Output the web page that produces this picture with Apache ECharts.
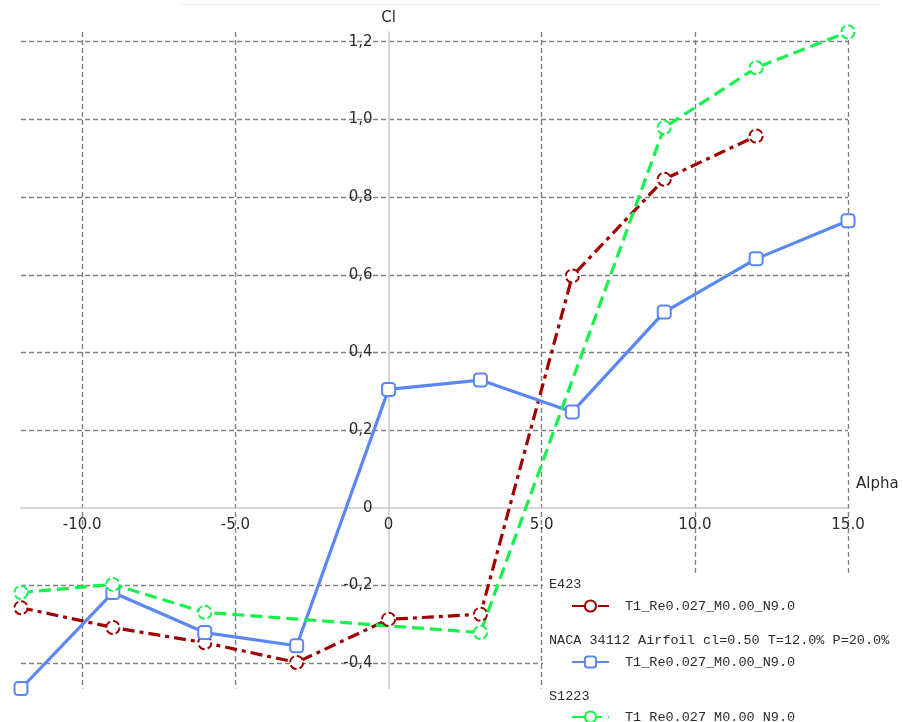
<!DOCTYPE html>
<html>
<head>
<meta charset="utf-8">
<title>Cl vs Alpha</title>
<script src="https://cdn.jsdelivr.net/npm/echarts@6/dist/echarts.min.js"></script>
<style>
  html, body { margin: 0; padding: 0; background: #fff; }
  #chart { width: 903px; height: 722px; }
</style>
</head>
<body>
<div id="chart"></div>
<script>
// Angle of attack (deg) for each polar
const alphaE423  = [-12, -9, -6, -3, 0, 3, 6, 9, 12];
const alphaNaca  = [-12, -9, -6, -3, 0, 3, 6, 9, 12, 15];
const alphaS1223 = [-12, -9, -6, 3, 9, 12, 15];

// Lift coefficient for each polar
const clE423  = [-0.257, -0.308, -0.347, -0.398, -0.287, -0.274, 0.597, 0.846, 0.957];
const clNaca  = [-0.465, -0.218, -0.321, -0.355, 0.305, 0.329, 0.247, 0.504, 0.641, 0.739];
const clS1223 = [-0.218, -0.197, -0.269, -0.321, 0.979, 1.133, 1.225];

// Airfoil names and the analysis name shown under each
const airfoilNames = ['E423', 'NACA 34112 Airfoil cl=0.50 T=12.0% P=20.0%', 'S1223'];
const polarName = 'T1_Re0.027_M0.00_N9.0';

// Axis ranges and tick positions
const xRange = [-12, 15];
const yRange = [-0.465, 1.225];
const xTickValues = [-10, -5, 0, 5, 10, 15];
const xGridValues = [-10, -5, 5, 10, 15];
const yTickValues = [-0.4, -0.2, 0, 0.2, 0.4, 0.6, 0.8, 1.0, 1.2];
const yGridValues = [-0.4, -0.2, 0.2, 0.4, 0.6, 0.8, 1.0, 1.2];

const pairs = (xs, ys) => xs.map((x, i) => [x, ys[i]]);

const textColor = '#2b2b2b';
const labelFont = 'DejaVu Sans';
const monoFont = 'Liberation Mono';
const monoCss = '13.5px "Liberation Mono"';

const gridLine = { show: true, lineStyle: { color: '#808080', width: 1.4, type: [5, 3] } };
const zeroLine = () => ({ show: true, onZero: true, onZeroAxisIndex: 0, lineStyle: { color: '#c9c9c9', width: 1.5 } });
const hidden = { show: false };

const colors = { e423: '#a10000', naca: '#5a87f5', s1223: '#14f24c' };

const xLabelFmt = v => (v === 0 ? '0' : v.toFixed(1));
const yLabelFmt = v => (Math.abs(v) < 1e-9 ? '0' : v.toFixed(1).replace('.', ','));

const chart = echarts.init(document.getElementById('chart'), null, { renderer: 'canvas' });

function legendFor(name, top) {
  return {
    data: [name],
    left: 566,
    top: top,
    orient: 'horizontal',
    itemWidth: 37,
    itemHeight: 14,
    selectedMode: false,
    formatter: () => polarName,
    textStyle: { fontFamily: monoFont, fontSize: 13.5, color: textColor, padding: [0, 0, 0, 11] }
  };
}

const option = {
  animation: false,
  backgroundColor: '#ffffff',
  grid: { left: 21, right: 55, top: 32, bottom: 33.5, containLabel: false, outerBoundsMode: 'none' },
  xAxis: [
    {
      // scale, grid lines and the zero line
      type: 'value',
      min: xRange[0],
      max: xRange[1],
      name: 'Alpha',
      nameLocation: 'end',
      nameGap: 8,
      nameTextStyle: { fontFamily: labelFont, fontSize: 15, color: textColor, align: 'left', verticalAlign: 'bottom', padding: [0, 0, 16, 0] },
      axisLine: zeroLine(),
      axisTick: { show: false, customValues: xGridValues },
      splitLine: gridLine,
      axisLabel: hidden
    },
    {
      // tick labels, shifted up onto the zero line
      type: 'value',
      min: xRange[0],
      max: xRange[1],
      position: 'bottom',
      offset: 0,
      axisLine: { show: false, onZero: false },
      axisTick: hidden,
      splitLine: hidden,
      axisLabel: { customValues: xTickValues, margin: 10, fontFamily: labelFont, fontSize: 15, color: textColor, formatter: xLabelFmt }
    }
  ],
  yAxis: [
    {
      type: 'value',
      min: yRange[0],
      max: yRange[1],
      name: 'Cl',
      nameLocation: 'end',
      nameGap: 6,
      nameTextStyle: { fontFamily: labelFont, fontSize: 15, color: textColor },
      axisLine: zeroLine(),
      axisTick: { show: false, customValues: yGridValues },
      splitLine: gridLine,
      axisLabel: hidden
    },
    {
      type: 'value',
      min: yRange[0],
      max: yRange[1],
      position: 'left',
      offset: 0,
      axisLine: { show: false, onZero: false },
      axisTick: hidden,
      splitLine: hidden,
      axisLabel: { customValues: yTickValues, margin: 16, fontFamily: labelFont, fontSize: 15, color: textColor, formatter: yLabelFmt }
    }
  ],
  legend: [
    legendFor(airfoilNames[0], 594),
    legendFor(airfoilNames[1], 650),
    legendFor(airfoilNames[2], 705)
  ],
  graphic: {
    elements: [
      // thin frame line along the top
      { type: 'line', z: 1, shape: { x1: 180, y1: 4.5, x2: 880, y2: 4.5 }, style: { stroke: '#ececec', lineWidth: 1 } },
      // legend panel background
      { type: 'rect', z: 1, shape: { x: 543, y: 575, width: 360, height: 147 }, style: { fill: '#ffffff' } },
      { type: 'text', z: 10, left: 549, top: 577, style: { text: airfoilNames[0], font: monoCss, fill: textColor } },
      { type: 'text', z: 10, left: 549, top: 633, style: { text: airfoilNames[1], font: monoCss, fill: textColor } },
      { type: 'text', z: 10, left: 549, top: 689, style: { text: airfoilNames[2], font: monoCss, fill: textColor } }
    ]
  },
  series: [
    {
      name: airfoilNames[0],
      type: 'line',
      xAxisIndex: 0,
      yAxisIndex: 0,
      data: pairs(alphaE423, clE423),
      color: colors.e423,
      symbol: 'emptyCircle',
      symbolSize: 13,
      clip: false,
      lineStyle: { width: 3.2, type: [12, 5, 4, 5] },
      itemStyle: { borderWidth: 3, borderType: [7, 3] }
    },
    {
      name: airfoilNames[1],
      type: 'line',
      xAxisIndex: 0,
      yAxisIndex: 0,
      data: pairs(alphaNaca, clNaca),
      color: colors.naca,
      symbol: 'emptyRoundRect',
      symbolSize: 13,
      clip: false,
      lineStyle: { width: 3.2, type: 'solid' },
      itemStyle: { borderWidth: 3 }
    },
    {
      name: airfoilNames[2],
      type: 'line',
      xAxisIndex: 0,
      yAxisIndex: 0,
      data: pairs(alphaS1223, clS1223),
      color: colors.s1223,
      symbol: 'emptyCircle',
      symbolSize: 13,
      clip: false,
      lineStyle: { width: 3.2, type: [12, 6] },
      itemStyle: { borderWidth: 3, borderType: [7, 3] }
    }
  ]
};

chart.setOption(option);

// Move the label axes so they sit on the zero lines of the plot
const origin = chart.convertToPixel({ gridIndex: 0 }, [0, 0]);
const corner = chart.convertToPixel({ gridIndex: 0 }, [xRange[0], yRange[0]]);
chart.setOption({
  xAxis: [{}, { offset: -(corner[1] - origin[1]) }],
  yAxis: [{}, { offset: -(origin[0] - corner[0]) }]
});
</script>
</body>
</html>
